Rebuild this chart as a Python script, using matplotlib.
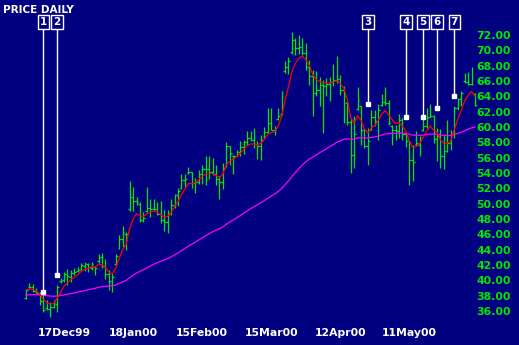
import numpy as np
import pandas as pd
import matplotlib
matplotlib.use("Agg")
import matplotlib.pyplot as plt

# daily OHLC
high = [39.0, 39.8, 39.7, 39.1, 38.6, 38.2, 37.6, 37.3, 37.6, 39.5,
        40.4, 41.2, 41.6, 41.5, 41.7, 41.9, 42.4, 42.5, 42.4, 42.5,
        41.9, 43.6, 43.7, 42.9, 41.5, 41.1, 43.6, 46.0, 47.2, 46.4,
        53.1, 52.3, 51.0, 50.3, 49.0, 52.3, 50.7, 50.7, 50.3, 50.5,
        49.3, 49.3, 50.7, 51.4, 52.2, 54.0, 54.0, 54.9, 54.3, 53.5,
        54.5, 55.2, 56.3, 56.3, 56.1, 55.2, 53.7, 55.4, 58.2, 57.7,
        56.5, 57.1, 58.3, 58.4, 59.6, 59.6, 60.0, 58.3, 59.1, 60.1,
        62.6, 62.6, 60.3, 62.6, 64.8, 68.7, 69.3, 72.5, 71.7, 72.1,
        71.7, 71.1, 68.9, 67.6, 67.4, 66.7, 66.3, 66.5, 66.7, 68.3,
        69.4, 66.9, 65.5, 63.5, 61.3, 61.6, 65.3, 62.9, 60.0, 60.0,
        62.3, 62.3, 63.1, 64.4, 65.3, 63.7, 60.4, 60.4, 61.8, 61.3,
        59.5, 58.4, 57.8, 59.6, 59.0, 61.3, 62.6, 63.1, 61.7, 60.0,
        59.9, 59.1, 61.0, 59.7, 62.9, 63.9, 64.8, 67.2, 67.3, 68.0,
        64.6]
low = [37.7, 39.1, 38.6, 38.5, 36.9, 36.0, 36.3, 35.3, 36.5, 36.0,
       39.8, 39.9, 39.5, 39.9, 40.8, 41.2, 41.5, 41.4, 41.2, 41.5,
       40.8, 42.4, 41.7, 40.3, 38.9, 38.6, 42.0, 44.2, 44.5, 44.1,
       49.2, 49.2, 50.0, 47.7, 47.7, 49.0, 48.4, 49.3, 48.7, 47.6,
       46.6, 46.3, 48.7, 49.6, 49.8, 52.0, 52.3, 54.0, 52.2, 51.5,
       52.7, 52.7, 52.6, 53.3, 53.9, 52.6, 50.7, 52.0, 54.9, 55.2,
       54.0, 56.3, 56.3, 56.6, 57.8, 58.3, 57.4, 56.0, 55.8, 58.7,
       59.3, 59.7, 59.1, 61.0, 61.7, 67.2, 67.0, 69.7, 69.5, 69.7,
       69.5, 67.6, 65.6, 61.6, 64.2, 62.9, 59.3, 64.2, 63.5, 65.5,
       65.9, 64.3, 60.7, 60.4, 54.1, 54.8, 62.3, 57.8, 57.4, 55.2,
       59.7, 60.3, 58.4, 62.9, 63.0, 60.4, 57.8, 58.4, 58.7, 58.4,
       57.5, 52.6, 53.1, 57.7, 56.3, 59.6, 60.0, 61.4, 58.0, 55.7,
       54.8, 54.7, 56.9, 57.1, 58.7, 62.3, 62.9, 65.9, 65.6, 65.6,
       62.9]
opens = [37.8, 39.3, 39.2, 38.7, 38.4, 37.5, 36.5, 36.4, 36.7, 37.0,
         40.0, 40.2, 41.0, 40.6, 41.1, 41.3, 41.6, 42.0, 42.2, 41.8,
         41.9, 42.6, 43.2, 42.0, 41.0, 39.8, 42.2, 44.4, 45.5, 46.2,
         49.5, 51.0, 50.5, 50.1, 48.0, 49.2, 49.6, 49.5, 49.4, 48.8,
         48.0, 47.8, 48.9, 50.0, 51.2, 52.2, 53.2, 54.1, 54.2, 52.8,
         53.0, 54.0, 54.6, 54.6, 54.3, 54.0, 53.4, 53.0, 55.0, 57.6,
         56.4, 56.4, 56.9, 57.5, 58.2, 58.7, 58.4, 57.9, 57.6, 58.8,
         59.5, 60.6, 59.8, 61.2, 61.8, 67.4, 68.0, 69.9, 71.5, 70.5,
         70.6, 69.8, 68.0, 66.8, 64.6, 65.0, 65.6, 65.5, 65.8, 66.0,
         66.3, 66.4, 65.0, 63.2, 60.8, 56.5, 62.5, 62.9, 59.8, 57.6,
         59.8, 61.4, 60.9, 63.0, 63.4, 63.2, 60.3, 59.8, 59.6, 61.0,
         59.2, 58.3, 55.8, 57.9, 57.8, 59.7, 60.3, 61.5, 61.6, 58.6,
         59.0, 56.4, 57.0, 58.0, 59.2, 62.6, 63.8, 66.1, 66.0, 65.8,
         64.5]
close = [38.9, 39.2, 38.7, 38.5, 37.5, 36.3, 36.4, 36.6, 37.2, 39.3,
         40.0, 41.0, 40.7, 41.1, 41.2, 41.5, 42.1, 42.2, 41.9, 42.3,
         41.8, 43.0, 42.0, 41.0, 40.0, 40.6, 43.3, 45.5, 46.5, 46.2,
         51.0, 50.5, 50.3, 48.0, 48.2, 49.6, 49.5, 49.4, 48.8, 48.0,
         47.8, 48.6, 50.0, 51.2, 51.8, 53.2, 53.4, 54.2, 52.8, 53.0,
         54.0, 54.6, 54.6, 54.3, 54.0, 53.4, 53.0, 54.8, 57.6, 56.7,
         56.4, 56.9, 57.5, 58.2, 58.7, 58.4, 57.9, 57.6, 58.4, 59.5,
         60.6, 59.8, 59.8, 61.6, 64.0, 68.0, 68.8, 71.5, 70.5, 70.6,
         69.8, 68.0, 66.8, 64.6, 65.0, 65.6, 65.5, 65.8, 66.0, 66.3,
         66.4, 65.0, 64.2, 60.8, 56.5, 59.2, 63.6, 59.8, 57.6, 58.3,
         61.4, 60.9, 62.4, 63.4, 63.2, 60.6, 59.8, 59.6, 61.0, 59.2,
         58.3, 55.8, 55.6, 58.0, 58.8, 60.3, 61.3, 61.6, 58.6, 59.0,
         56.4, 57.0, 58.0, 59.2, 62.6, 63.8, 64.6, 66.0, 65.8, 65.8,
         63.0]

holidays = ["1999-12-24", "2000-01-17", "2000-02-21", "2000-04-21", "2000-05-29"]
dates = pd.bdate_range("1999-12-02", periods=len(close), freq="C", holidays=holidays)

long_ma_start = 38.2   # long MA level just before the first bar
price_ticks = [36, 38, 40, 42, 44, 46, 48, 50, 52, 54, 56, 58, 60, 62, 64, 66, 68, 70, 72]
tick_dates = ["1999-12-17", "2000-01-18", "2000-02-15", "2000-03-15", "2000-04-12", "2000-05-11"]

marker_labels = ["1", "2", "3", "4", "5", "6", "7"]
marker_dates = ["1999-12-09", "1999-12-15", "2000-04-25", "2000-05-10",
                "2000-05-17", "2000-05-23", "2000-05-31"]
marker_prices = [38.6, 40.8, 63.1, 61.4, 61.4, 62.6, 64.2]

navy = "#000080"
green = "#00e800"

close_s = pd.Series(close)
short_ma = close_s.ewm(span=5, adjust=False).mean()
long_ma = pd.concat([pd.Series([long_ma_start]), close_s], ignore_index=True).ewm(span=63, adjust=False).mean()[1:]

x = np.arange(len(close))

fig = plt.figure(figsize=(5.19, 3.45), dpi=100, facecolor=navy)
ax = fig.add_axes([0, 0, 1, 1], facecolor=navy)
ax.set_xlim(-7.53, 142.74)
ax.set_ylim(31.70, 76.70)
ax.axis("off")

ax.vlines(x, low, high, colors=green, lw=0.9)
ax.hlines(opens, x - 0.5, x, colors=green, lw=0.9)
ax.hlines(close, x, x + 0.5, colors=green, lw=0.9)

ax.plot(x, long_ma, color="#ff00ff", lw=0.9)
ax.plot(x, short_ma, color="#ff0000", lw=0.9)

# numbered annotations
for lab, d, p in zip(marker_labels, marker_dates, marker_prices):
    i = dates.get_loc(pd.Timestamp(d))
    ax.vlines(i, p, 72.9, colors="white", lw=1.0)
    ax.plot(i, p, "s", color="white", ms=3)
    ax.text(i, 73.85, lab, color="white", fontsize=7.5, fontweight="bold",
            ha="center", va="center",
            bbox=dict(boxstyle="square,pad=0.2", fc=navy, ec="white", lw=1.0))

# price scale on the right
for v in price_ticks:
    ax.text(0.918, v, "%.2f" % v, transform=ax.get_yaxis_transform(),
            color=green, fontsize=7.8, fontweight="bold", ha="left", va="center")

# date labels
for d in tick_dates:
    i = dates.get_loc(pd.Timestamp(d))
    ax.text(i, 0.035, dates[i].strftime("%d%b%y"), transform=ax.get_xaxis_transform(),
            color="white", fontsize=7.8, fontweight="bold", ha="center", va="center")

fig.text(0.006, 0.985, "PRICE DAILY", color="white", fontsize=7.5,
         fontweight="bold", ha="left", va="top")

fig.savefig("out.png", dpi=100, facecolor=navy)
